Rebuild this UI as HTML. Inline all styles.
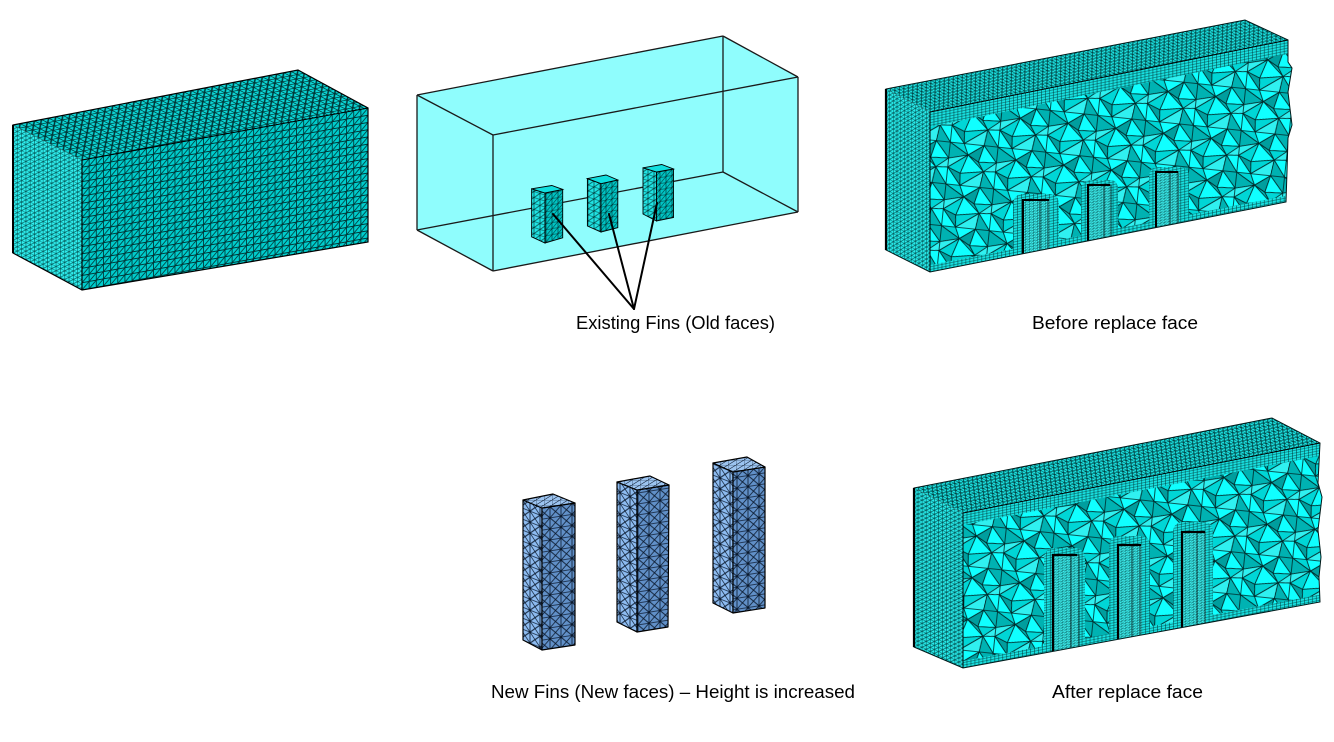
<!DOCTYPE html>
<html><head><meta charset="utf-8"><style>
html,body{margin:0;padding:0;background:#fff;}
svg{display:block;}
text{font-family:"Liberation Sans",Arial,sans-serif;font-size:18px;fill:#000;}
</style></head><body>
<svg width="1334" height="742" viewBox="0 0 1334 742" xmlns="http://www.w3.org/2000/svg">
<defs>
<!-- Box 1 patterns -->
<pattern id="b1Top" patternUnits="userSpaceOnUse" width="10" height="10" patternTransform="matrix(0.7125 -0.1375 0.627 0.318 13 125)">
<rect width="10" height="10" fill="#0cd6d6"/><path d="M0 0H10M0 10H10M0 0V10M10 0V10M0 10L10 0" stroke="#003434" stroke-width="1.6" fill="none"/></pattern>
<pattern id="b1Front" patternUnits="userSpaceOnUse" width="10" height="10" patternTransform="matrix(0.715 -0.13 0 0.722 82 160)">
<rect width="10" height="10" fill="#00cccc"/><path d="M0 0H10M0 10H10M0 0V10M10 0V10M0 10L10 0" stroke="#003434" stroke-width="1.2" fill="none"/></pattern>
<pattern id="b1Left" patternUnits="userSpaceOnUse" width="10" height="10" patternTransform="matrix(0.431 0.219 0 0.427 13 125)">
<rect width="10" height="10" fill="#30f2f2"/><path d="M0 0H10M0 10H10M0 0V10M10 0V10M0 10L10 0" stroke="#005050" stroke-width="1.3" fill="none"/></pattern>
<!-- Small old fins -->
<pattern id="sfF" patternUnits="userSpaceOnUse" width="6" height="6" patternTransform="skewY(-11)">
<rect width="6" height="6" fill="#00c4c4"/><path d="M0 0H6M0 6H6M0 0V6M6 0V6M0 6L6 0" stroke="#003030" stroke-width="0.6" fill="none"/></pattern>
<pattern id="sfL" patternUnits="userSpaceOnUse" width="6" height="6" patternTransform="skewY(18)">
<rect width="6" height="6" fill="#20e4e4"/><path d="M0 0H6M0 6H6M0 0V6M6 0V6M0 6L6 0" stroke="#003030" stroke-width="0.6" fill="none"/></pattern>
<!-- Blue fins -->
<pattern id="bfF" patternUnits="userSpaceOnUse" width="11" height="11" patternTransform="skewY(-9)">
<rect width="11" height="11" fill="#6190c8"/><path d="M0 0H11M0 11H11M0 0V11M11 0V11M0 0L11 11M11 0L0 11" stroke="#0b1a2e" stroke-width="0.8" fill="none"/></pattern>
<pattern id="bfL" patternUnits="userSpaceOnUse" width="10" height="11" patternTransform="skewY(22)">
<rect width="10" height="11" fill="#8dbbf0"/><path d="M0 0H10M0 11H10M0 0V11M10 0V11M0 0L10 11M10 0L0 11" stroke="#0b1a2e" stroke-width="0.8" fill="none"/></pattern>
<pattern id="bfT" patternUnits="userSpaceOnUse" width="8" height="5">
<rect width="8" height="5" fill="#9cc4f0"/><path d="M0 0H8M0 0V5M0 5L8 0" stroke="#1a2a40" stroke-width="0.6" fill="none"/></pattern>
<!-- Before mesh -->
<pattern id="bTop" patternUnits="userSpaceOnUse" width="10" height="10" patternTransform="matrix(0.449 -0.086 0.44 0.23 886 89)">
<rect width="10" height="10" fill="#1ce2e2"/><path d="M0 0H10M0 10H10M0 0V10M10 0V10M0 10L10 0" stroke="#004040" stroke-width="1.5" fill="none"/></pattern>
<pattern id="bLeft" patternUnits="userSpaceOnUse" width="10" height="10" patternTransform="matrix(0.367 0.192 0 0.4025 886 89)">
<rect width="10" height="10" fill="#28ecec"/><path d="M0 0H10M0 10H10M0 0V10M10 0V10M0 10L10 0" stroke="#004848" stroke-width="1.3" fill="none"/></pattern>
<pattern id="bFine" patternUnits="userSpaceOnUse" width="10" height="10" patternTransform="matrix(0.398 -0.08 0 0.267 930 112)">
<rect width="10" height="10" fill="#18e0e0"/><path d="M0 0H10M0 10H10M0 0V10M10 0V10" stroke="#003c3c" stroke-width="1.3" fill="none"/></pattern>
<pattern id="bFineL" patternUnits="userSpaceOnUse" width="10" height="10" patternTransform="matrix(0.398 -0.08 0 0.267 930 112)">
<rect width="10" height="10" fill="#40f6f6"/><path d="M0 0H10M0 10H10M0 0V10M10 0V10M0 10L10 0" stroke="#004444" stroke-width="1.1" fill="none"/></pattern>
<!-- After mesh -->
<pattern id="aTop" patternUnits="userSpaceOnUse" width="10" height="10" patternTransform="matrix(0.4475 -0.0875 0.49 0.25 914 488)">
<rect width="10" height="10" fill="#1ce2e2"/><path d="M0 0H10M0 10H10M0 0V10M10 0V10M0 10L10 0" stroke="#004040" stroke-width="1.5" fill="none"/></pattern>
<pattern id="aLeft" patternUnits="userSpaceOnUse" width="10" height="10" patternTransform="matrix(0.408 0.208 0 0.3975 914 488)">
<rect width="10" height="10" fill="#28ecec"/><path d="M0 0H10M0 10H10M0 0V10M10 0V10M0 10L10 0" stroke="#004848" stroke-width="1.3" fill="none"/></pattern>
<pattern id="aFine" patternUnits="userSpaceOnUse" width="10" height="10" patternTransform="matrix(0.397 -0.078 0 0.258 963 513)">
<rect width="10" height="10" fill="#18e0e0"/><path d="M0 0H10M0 10H10M0 0V10M10 0V10" stroke="#003c3c" stroke-width="1.3" fill="none"/></pattern>
<pattern id="aFineL" patternUnits="userSpaceOnUse" width="10" height="10" patternTransform="matrix(0.397 -0.078 0 0.258 963 513)">
<rect width="10" height="10" fill="#40f6f6"/><path d="M0 0H10M0 10H10M0 0V10M10 0V10M0 10L10 0" stroke="#004444" stroke-width="1.1" fill="none"/></pattern>
<!-- Tetra pattern -->
<pattern id="tet" patternUnits="userSpaceOnUse" width="48" height="42" patternTransform="rotate(6)">
<g stroke="#002626" stroke-width="0.8" stroke-linejoin="round">
<polygon points="0,0 14,0 19,11" fill="#00d6d6"/>
<polygon points="0,0 19,11 0,16" fill="#00b2b2"/>
<polygon points="14,0 34,0 19,11" fill="#10ffff"/>
<polygon points="34,0 30,17 19,11" fill="#009e9e"/>
<polygon points="34,0 48,0 48,16" fill="#00b2b2"/>
<polygon points="34,0 48,16 30,17" fill="#10ffff"/>
<polygon points="0,16 19,11 0,25" fill="#30f0f0"/>
<polygon points="19,11 13,30 0,25" fill="#00d6d6"/>
<polygon points="19,11 30,17 36,26" fill="#00b2b2"/>
<polygon points="19,11 36,26 13,30" fill="#10ffff"/>
<polygon points="30,17 48,16 36,26" fill="#00d6d6"/>
<polygon points="48,16 48,25 36,26" fill="#30f0f0"/>
<polygon points="0,25 13,30 14,42" fill="#009e9e"/>
<polygon points="0,25 14,42 0,42" fill="#10ffff"/>
<polygon points="13,30 36,26 14,42" fill="#00d6d6"/>
<polygon points="36,26 34,42 14,42" fill="#30f0f0"/>
<polygon points="36,26 48,25 48,42" fill="#10ffff"/>
<polygon points="36,26 48,42 34,42" fill="#00b2b2"/>
</g></pattern>
<clipPath id="cpB"><polygon points="930,112 1288,40 1288,62 1292,68 1288,92 1292,125 1288,138 1287,172 1286,202 930,272"/></clipPath>
<clipPath id="cpA"><polygon points="963,513 1320,443 1318,483 1322,497 1318,530 1321,557 1319,577 1320,602 963,668"/></clipPath>
</defs>

<rect width="1334" height="742" fill="#fff"/>

<!-- ===== Box 1 (top-left) ===== -->
<polygon points="13,125 82,160 82,290 13,253" fill="url(#b1Left)"/>
<polygon points="13,125 298,70 368,108 82,160" fill="url(#b1Top)"/>
<polygon points="82,160 368,108 368,242 82,290" fill="url(#b1Front)"/>
<polygon points="13,125 298,70 368,108 368,242 82,290 13,253" fill="none" stroke="#000" stroke-width="1.2"/>
<line x1="82" y1="160" x2="368" y2="108" stroke="#000" stroke-width="1"/>
<line x1="82" y1="160" x2="82" y2="290" stroke="#000" stroke-width="1.2"/>
<line x1="13" y1="125" x2="13" y2="253" stroke="#000" stroke-width="2"/>

<!-- ===== Box 2 (transparent) ===== -->
<polygon points="417,95 723,36 798,77 798,212 493,271 417,230" fill="#8ffdfd"/>
<g stroke="#1a1a1a" stroke-width="1.3" fill="none">
<line x1="417" y1="95" x2="723" y2="36"/>
<line x1="723" y1="36" x2="798" y2="77"/>
<line x1="417" y1="95" x2="493" y2="135"/>
<line x1="493" y1="135" x2="798" y2="77"/>
<line x1="417" y1="95" x2="417" y2="230"/>
<line x1="723" y1="36" x2="723" y2="172"/>
<line x1="493" y1="135" x2="493" y2="271"/>
<line x1="798" y1="77" x2="798" y2="212"/>
<line x1="417" y1="230" x2="723" y2="172"/>
<line x1="417" y1="230" x2="493" y2="271"/>
<line x1="723" y1="172" x2="798" y2="212"/>
<line x1="493" y1="271" x2="798" y2="212"/>
</g>
<!-- old fins -->
<g stroke="#000" stroke-width="0.9">
<polygon points="531.6,188.8 545,193 545,243 531.6,236.8" fill="url(#sfL)"/>
<polygon points="545,193 562.7,189.4 562.7,237.8 545,243" fill="url(#sfF)"/>
<polygon points="531.6,188.8 551.8,185.5 562.7,189.4 545,193" fill="#10dede"/>
<polygon points="587.4,178.6 601,183.7 601,232 587.4,226" fill="url(#sfL)"/>
<polygon points="601,183.7 617.8,180 617.8,227.6 601,232" fill="url(#sfF)"/>
<polygon points="587.4,178.6 606,175 617.8,180 601,183.7" fill="#10dede"/>
<polygon points="643,167.8 656.6,172 656.6,221 643,214" fill="url(#sfL)"/>
<polygon points="656.6,172 673.5,169 673.5,217.5 656.6,221" fill="url(#sfF)"/>
<polygon points="643,167.8 661.7,164.5 673.5,169 656.6,172" fill="#10dede"/>
</g>
<!-- leader lines -->
<g stroke="#000" stroke-width="2" stroke-linecap="round">
<line x1="634" y1="309" x2="553" y2="214"/>
<line x1="634" y1="309" x2="609" y2="214"/>
<line x1="634" y1="309" x2="657" y2="203"/>
</g>
<text x="576" y="329" textLength="199" lengthAdjust="spacingAndGlyphs">Existing Fins (Old faces)</text>

<!-- ===== Before replace face ===== -->
<polygon points="886,89 930,112 930,272 886,250" fill="url(#bLeft)"/>
<polygon points="886,89 1245,20 1288,40 930,112" fill="url(#bTop)"/>
<polygon points="930,112 1288,40 1288,62 1292,68 1288,92 1292,125 1288,138 1287,172 1286,202 930,272" fill="url(#tet)"/>
<g clip-path="url(#cpB)">
<polygon points="930,112 1288,40 1292,53 930,127" fill="url(#bFine)"/>
<polygon points="930,265 1290,195 1290,204 930,274" fill="url(#bFine)"/>
<!-- cavity 1 -->
<path d="M1013,256 V205 Q1013,194 1024,194 H1049 Q1059,194 1059,205 V256 Z" fill="url(#bFine)"/>
<rect x="1023" y="200" width="27" height="56" fill="url(#bFineL)"/>
<rect x="1040" y="200" width="8" height="56" fill="url(#bFineL)" stroke="#000" stroke-width="0.7"/>
<path d="M1023,256 V200 H1049" stroke="#000" stroke-width="2" fill="none"/>
<!-- cavity 2 -->
<path d="M1081,246 V190 Q1081,180 1091,180 H1110 Q1118,180 1118,190 V246 Z" fill="url(#bFine)"/>
<rect x="1088" y="185" width="23" height="61" fill="url(#bFineL)"/>
<rect x="1104" y="185" width="7" height="61" fill="url(#bFineL)" stroke="#000" stroke-width="0.7"/>
<path d="M1088,246 V185 H1110" stroke="#000" stroke-width="2" fill="none"/>
<!-- cavity 3 -->
<path d="M1149,232 V177 Q1149,167 1159,167 H1180 Q1189,167 1189,177 V232 Z" fill="url(#bFine)"/>
<rect x="1156" y="172" width="23" height="60" fill="url(#bFineL)"/>
<rect x="1170" y="172" width="8" height="60" fill="url(#bFineL)" stroke="#000" stroke-width="0.7"/>
<path d="M1156,232 V172 H1178" stroke="#000" stroke-width="2" fill="none"/>
</g>
<polygon points="886,89 1245,20 1288,40 1288,62 1292,68 1288,92 1292,125 1288,138 1287,172 1286,202 930,272 886,250" fill="none" stroke="#001a1a" stroke-width="1"/>
<line x1="930" y1="112" x2="1288" y2="40" stroke="#000" stroke-width="1"/>
<line x1="930" y1="112" x2="930" y2="272" stroke="#000" stroke-width="1"/>
<line x1="886" y1="89" x2="886" y2="250" stroke="#000" stroke-width="2.2"/>
<text x="1032" y="329" textLength="166" lengthAdjust="spacingAndGlyphs">Before replace face</text>

<!-- ===== New fins (blue) ===== -->
<g stroke="#000" stroke-width="1.2" stroke-linejoin="round">
<polygon points="523,500 542,508 542,650 523,640" fill="url(#bfL)"/>
<polygon points="542,508 575,503 575,645 542,650" fill="url(#bfF)"/>
<polygon points="523,500 553,494 575,503 542,508" fill="url(#bfT)"/>
<polygon points="617,482 637,490 637,632 617,622" fill="url(#bfL)"/>
<polygon points="637,490 669,485 668,627 637,632" fill="url(#bfF)"/>
<polygon points="617,482 650,476 669,485 637,490" fill="url(#bfT)"/>
<polygon points="713,463 733,472 733,613 713,603" fill="url(#bfL)"/>
<polygon points="733,472 765,467 765,608 733,613" fill="url(#bfF)"/>
<polygon points="713,463 747,457 765,467 733,472" fill="url(#bfT)"/>
</g>
<text x="491" y="698" textLength="364" lengthAdjust="spacingAndGlyphs">New Fins (New faces) – Height is increased</text>

<!-- ===== After replace face ===== -->
<polygon points="914,488 963,513 963,668 914,647" fill="url(#aLeft)"/>
<polygon points="914,488 1272,418 1320,443 963,513" fill="url(#aTop)"/>
<polygon points="963,513 1320,443 1318,483 1322,497 1318,530 1321,557 1319,577 1320,602 963,668" fill="url(#tet)"/>
<g clip-path="url(#cpA)">
<polygon points="963,513 1320,443 1324,455 963,525" fill="url(#aFine)"/>
<polygon points="963,661 1324,594 1324,604 963,671" fill="url(#aFine)"/>
<!-- cavity 1 -->
<path d="M1044,660 V560 Q1044,548 1055,548 H1075 Q1085,548 1085,560 V660 Z" fill="url(#aFine)"/>
<rect x="1053" y="555" width="25" height="105" fill="url(#aFineL)"/>
<rect x="1071" y="555" width="8" height="105" fill="url(#aFineL)" stroke="#000" stroke-width="0.7"/>
<path d="M1053,660 V555 H1077" stroke="#000" stroke-width="2.2" fill="none"/>
<!-- cavity 2 -->
<path d="M1109,648 V547 Q1109,536 1120,536 H1140 Q1150,536 1150,547 V648 Z" fill="url(#aFine)"/>
<rect x="1118" y="545" width="24" height="103" fill="url(#aFineL)"/>
<rect x="1132" y="545" width="8" height="103" fill="url(#aFineL)" stroke="#000" stroke-width="0.7"/>
<path d="M1118,648 V545 H1141" stroke="#000" stroke-width="2.2" fill="none"/>
<!-- cavity 3 -->
<path d="M1173,636 V533 Q1173,522 1184,522 H1203 Q1213,522 1213,533 V636 Z" fill="url(#aFine)"/>
<rect x="1182" y="532" width="24" height="104" fill="url(#aFineL)"/>
<rect x="1197" y="532" width="8" height="104" fill="url(#aFineL)" stroke="#000" stroke-width="0.7"/>
<path d="M1182,636 V532 H1205" stroke="#000" stroke-width="2.2" fill="none"/>
</g>
<polygon points="914,488 1272,418 1320,443 1318,483 1322,497 1318,530 1321,557 1319,577 1320,602 963,668 914,647" fill="none" stroke="#001a1a" stroke-width="1"/>
<line x1="963" y1="513" x2="1320" y2="443" stroke="#000" stroke-width="1"/>
<line x1="963" y1="513" x2="963" y2="668" stroke="#000" stroke-width="1"/>
<line x1="914" y1="488" x2="914" y2="647" stroke="#000" stroke-width="2.2"/>
<text x="1052" y="698" textLength="151" lengthAdjust="spacingAndGlyphs">After replace face</text>
</svg>
</body></html>
